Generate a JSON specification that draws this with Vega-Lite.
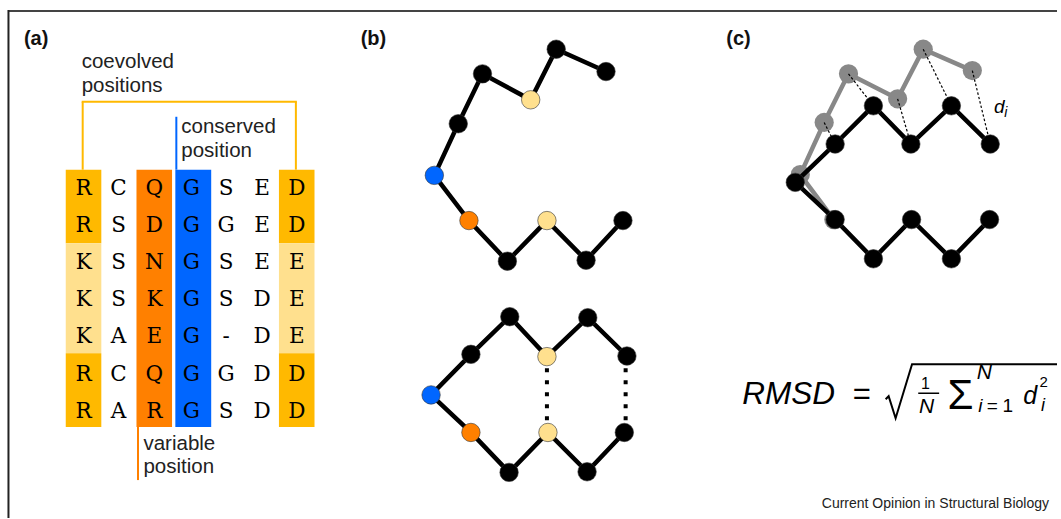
{
  "$schema": "https://vega.github.io/schema/vega-lite/v6.json",
  "width": 1061,
  "height": 519,
  "autosize": {"type": "fit", "contains": "padding"},
  "padding": 0,
  "background": "white",
  "config": {"view": {"stroke": null}},
  "datasets": {
    "cells": [
      {"kind": "coev", "x": 66, "x2": 101.7, "y": 170, "y2": 243.6},
      {"kind": "coevlight", "x": 66, "x2": 101.7, "y": 243.6, "y2": 354},
      {"kind": "coev", "x": 66, "x2": 101.7, "y": 354, "y2": 427.7},
      {"kind": "coev", "x": 280, "x2": 315.7, "y": 170, "y2": 243.6},
      {"kind": "coevlight", "x": 280, "x2": 315.7, "y": 243.6, "y2": 354},
      {"kind": "coev", "x": 280, "x2": 315.7, "y": 354, "y2": 427.7},
      {"kind": "variable", "x": 137, "x2": 172.7, "y": 170, "y2": 427.7},
      {"kind": "conserved", "x": 176, "x2": 212, "y": 170, "y2": 427.7}
    ],
    "letters": [
      {"r": "R", "x": 84, "y": 195}, {"r": "C", "x": 119, "y": 195}, {"r": "Q", "x": 155, "y": 195}, {"r": "G", "x": 192, "y": 195}, {"r": "S", "x": 227, "y": 195}, {"r": "E", "x": 263, "y": 195}, {"r": "D", "x": 298, "y": 195},
      {"r": "R", "x": 84, "y": 232}, {"r": "S", "x": 119, "y": 232}, {"r": "D", "x": 155, "y": 232}, {"r": "G", "x": 192, "y": 232}, {"r": "G", "x": 227, "y": 232}, {"r": "E", "x": 263, "y": 232}, {"r": "D", "x": 298, "y": 232},
      {"r": "K", "x": 84, "y": 269.5}, {"r": "S", "x": 119, "y": 269.5}, {"r": "N", "x": 155, "y": 269.5}, {"r": "G", "x": 192, "y": 269.5}, {"r": "S", "x": 227, "y": 269.5}, {"r": "E", "x": 263, "y": 269.5}, {"r": "E", "x": 298, "y": 269.5},
      {"r": "K", "x": 84, "y": 307}, {"r": "S", "x": 119, "y": 307}, {"r": "K", "x": 155, "y": 307}, {"r": "G", "x": 192, "y": 307}, {"r": "S", "x": 227, "y": 307}, {"r": "D", "x": 263, "y": 307}, {"r": "E", "x": 298, "y": 307},
      {"r": "K", "x": 84, "y": 344}, {"r": "A", "x": 119, "y": 344}, {"r": "E", "x": 155, "y": 344}, {"r": "G", "x": 192, "y": 344}, {"r": "-", "x": 227, "y": 344}, {"r": "D", "x": 263, "y": 344}, {"r": "E", "x": 298, "y": 344},
      {"r": "R", "x": 84, "y": 381.5}, {"r": "C", "x": 119, "y": 381.5}, {"r": "Q", "x": 155, "y": 381.5}, {"r": "G", "x": 192, "y": 381.5}, {"r": "G", "x": 227, "y": 381.5}, {"r": "D", "x": 263, "y": 381.5}, {"r": "D", "x": 298, "y": 381.5},
      {"r": "R", "x": 84, "y": 419}, {"r": "A", "x": 119, "y": 419}, {"r": "R", "x": 155, "y": 419}, {"r": "G", "x": 192, "y": 419}, {"r": "S", "x": 227, "y": 419}, {"r": "D", "x": 263, "y": 419}, {"r": "D", "x": 298, "y": 419}
    ],
    "segments": [
      {"kind": "coev", "x": 83, "y": 170, "x2": 83, "y2": 102},
      {"kind": "coev", "x": 82, "y": 102, "x2": 298, "y2": 102},
      {"kind": "coev", "x": 297, "y": 102, "x2": 297, "y2": 170},
      {"kind": "conserved", "x": 177, "y": 117, "x2": 177, "y2": 170},
      {"kind": "variable", "x": 138.5, "y": 427.7, "x2": 138.5, "y2": 481}
    ],
    "nodes": [
      {"chain": "btop", "ord": 1, "x": 608.3, "y": 71.7, "kind": "black"},
      {"chain": "btop", "ord": 2, "x": 558.3, "y": 49.3, "kind": "black"},
      {"chain": "btop", "ord": 3, "x": 532.7, "y": 100, "kind": "coevlight"},
      {"chain": "btop", "ord": 4, "x": 484.3, "y": 74, "kind": "black"},
      {"chain": "btop", "ord": 5, "x": 460, "y": 124, "kind": "black"},
      {"chain": "btop", "ord": 6, "x": 436, "y": 175.7, "kind": "conserved"},
      {"chain": "btop", "ord": 7, "x": 470.7, "y": 221, "kind": "variable"},
      {"chain": "btop", "ord": 8, "x": 509.3, "y": 261.7, "kind": "black"},
      {"chain": "btop", "ord": 9, "x": 549, "y": 221, "kind": "coevlight"},
      {"chain": "btop", "ord": 10, "x": 588.3, "y": 260.7, "kind": "black"},
      {"chain": "btop", "ord": 11, "x": 625.3, "y": 221, "kind": "black"},
      {"chain": "bbot", "ord": 1, "x": 629.3, "y": 356.7, "kind": "black"},
      {"chain": "bbot", "ord": 2, "x": 590, "y": 318.3, "kind": "black"},
      {"chain": "bbot", "ord": 3, "x": 549, "y": 357.3, "kind": "coevlight"},
      {"chain": "bbot", "ord": 4, "x": 511.7, "y": 317.3, "kind": "black"},
      {"chain": "bbot", "ord": 5, "x": 472.7, "y": 355, "kind": "black"},
      {"chain": "bbot", "ord": 6, "x": 432.7, "y": 395.7, "kind": "conserved"},
      {"chain": "bbot", "ord": 7, "x": 472.7, "y": 433.3, "kind": "variable"},
      {"chain": "bbot", "ord": 8, "x": 511, "y": 473.3, "kind": "black"},
      {"chain": "bbot", "ord": 9, "x": 550, "y": 433.3, "kind": "coevlight"},
      {"chain": "bbot", "ord": 10, "x": 589.3, "y": 472.7, "kind": "black"},
      {"chain": "bbot", "ord": 11, "x": 626.7, "y": 433.3, "kind": "black"},
      {"chain": "cref", "ord": 1, "x": 994, "y": 144.3, "kind": "black"},
      {"chain": "cref", "ord": 2, "x": 955, "y": 106, "kind": "black"},
      {"chain": "cref", "ord": 3, "x": 914.3, "y": 144.3, "kind": "black"},
      {"chain": "cref", "ord": 4, "x": 876.7, "y": 106, "kind": "black"},
      {"chain": "cref", "ord": 5, "x": 838.3, "y": 144.3, "kind": "black"},
      {"chain": "cref", "ord": 6, "x": 798.3, "y": 182.7, "kind": "black"},
      {"chain": "cref", "ord": 7, "x": 838.3, "y": 220, "kind": "black"},
      {"chain": "cref", "ord": 8, "x": 876.7, "y": 259.3, "kind": "black"},
      {"chain": "cref", "ord": 9, "x": 915, "y": 220, "kind": "black"},
      {"chain": "cref", "ord": 10, "x": 955, "y": 259.3, "kind": "black"},
      {"chain": "cref", "ord": 11, "x": 993.3, "y": 220, "kind": "black"}
    ],
    "model": [
      {"chain": "cmodel", "ord": 1, "x": 976, "y": 70.7},
      {"chain": "cmodel", "ord": 2, "x": 926.7, "y": 49.3},
      {"chain": "cmodel", "ord": 3, "x": 901, "y": 99},
      {"chain": "cmodel", "ord": 4, "x": 851.7, "y": 74},
      {"chain": "cmodel", "ord": 5, "x": 827.3, "y": 122.7},
      {"chain": "cmodel", "ord": 6, "x": 803.3, "y": 175},
      {"chain": "cmodel", "ord": 7, "x": 837, "y": 220}
    ],
    "bdots": [
      {"x": 549, "y": 369, "x2": 549, "y2": 424},
      {"x": 628, "y": 369, "x2": 628, "y2": 424}
    ],
    "cdash": [
      {"x": 851.7, "y": 74, "x2": 876.7, "y2": 106},
      {"x": 901, "y": 99, "x2": 914.3, "y2": 144.3},
      {"x": 926.7, "y": 49.3, "x2": 955, "y2": 106},
      {"x": 976, "y": 70.7, "x2": 994, "y2": 144.3},
      {"x": 827.3, "y": 122.7, "x2": 838.3, "y2": 144.3}
    ],
    "radical": [
      {"ord": 1, "x": 889, "y": 400},
      {"ord": 2, "x": 892, "y": 397},
      {"ord": 3, "x": 899, "y": 419},
      {"ord": 4, "x": 915.5, "y": 365},
      {"ord": 5, "x": 1061, "y": 365}
    ]
  },
  "layer": [
    {
      "data": {"values": [
        {"x": 8, "y": 11, "x2": 1061, "y2": 11}
      ]},
      "mark": {"type": "rule", "stroke": "#444", "strokeWidth": 2},
      "encoding": {
        "x": {"field": "x", "type": "quantitative", "scale": {"domain": [0, 1061], "nice": false, "zero": false}, "axis": null},
        "y": {"field": "y", "type": "quantitative", "scale": {"domain": [0, 519], "nice": false, "zero": false, "reverse": true}, "axis": null},
        "x2": {"field": "x2"},
        "y2": {"field": "y2"}
      }
    },
    {
      "data": {"values": [
        {"x": 8.5, "y": 10, "x2": 8.5, "y2": 519}
      ]},
      "mark": {"type": "rule", "stroke": "#222", "strokeWidth": 2},
      "encoding": {
        "x": {"field": "x", "type": "quantitative", "scale": {"domain": [0, 1061], "nice": false, "zero": false}, "axis": null},
        "y": {"field": "y", "type": "quantitative", "scale": {"domain": [0, 519], "nice": false, "zero": false, "reverse": true}, "axis": null},
        "x2": {"field": "x2"},
        "y2": {"field": "y2"}
      }
    },
    {
      "data": {"name": "cells"},
      "mark": {"type": "rect"},
      "encoding": {
        "x": {"field": "x", "type": "quantitative", "scale": {"domain": [0, 1061], "nice": false, "zero": false}, "axis": null},
        "y": {"field": "y", "type": "quantitative", "scale": {"domain": [0, 519], "nice": false, "zero": false, "reverse": true}, "axis": null},
        "x2": {"field": "x2"},
        "y2": {"field": "y2"},
        "color": {"field": "kind", "type": "nominal", "legend": null,
          "scale": {"domain": ["coev", "coevlight", "variable", "conserved", "black", "grey"], "range": ["#FFB900", "#FFE08E", "#FF8000", "#0066FF", "#000000", "#888888"]}}
      }
    },
    {
      "data": {"name": "segments"},
      "mark": {"type": "rule", "strokeWidth": 2},
      "encoding": {
        "x": {"field": "x", "type": "quantitative", "scale": {"domain": [0, 1061], "nice": false, "zero": false}, "axis": null},
        "y": {"field": "y", "type": "quantitative", "scale": {"domain": [0, 519], "nice": false, "zero": false, "reverse": true}, "axis": null},
        "x2": {"field": "x2"},
        "y2": {"field": "y2"},
        "color": {"field": "kind", "type": "nominal", "legend": null,
          "scale": {"domain": ["coev", "coevlight", "variable", "conserved", "black", "grey"], "range": ["#FFB900", "#FFE08E", "#FF8000", "#0066FF", "#000000", "#888888"]}}
      }
    },
    {
      "data": {"name": "letters"},
      "mark": {"type": "text", "font": "DejaVu Serif", "fontSize": 21.5, "align": "center", "baseline": "alphabetic", "color": "#000"},
      "encoding": {
        "x": {"field": "x", "type": "quantitative", "scale": {"domain": [0, 1061], "nice": false, "zero": false}, "axis": null},
        "y": {"field": "y", "type": "quantitative", "scale": {"domain": [0, 519], "nice": false, "zero": false, "reverse": true}, "axis": null},
        "text": {"field": "r"}
      }
    },
    {
      "data": {"values": [
        {"t": "coevolved", "x": 82, "y": 68},
        {"t": "positions", "x": 82, "y": 91.7},
        {"t": "conserved", "x": 182, "y": 133.3},
        {"t": "position", "x": 182, "y": 157},
        {"t": "variable", "x": 144, "y": 450.7},
        {"t": "position", "x": 144, "y": 474.4}
      ]},
      "mark": {"type": "text", "font": "Liberation Sans", "fontSize": 20.5, "align": "left", "baseline": "alphabetic", "color": "#222"},
      "encoding": {
        "x": {"field": "x", "type": "quantitative", "scale": {"domain": [0, 1061], "nice": false, "zero": false}, "axis": null},
        "y": {"field": "y", "type": "quantitative", "scale": {"domain": [0, 519], "nice": false, "zero": false, "reverse": true}, "axis": null},
        "text": {"field": "t"}
      }
    },
    {
      "data": {"values": [
        {"t": "(a)", "x": 24, "y": 45},
        {"t": "(b)", "x": 362, "y": 45},
        {"t": "(c)", "x": 729, "y": 45}
      ]},
      "mark": {"type": "text", "font": "Liberation Sans", "fontSize": 20, "fontWeight": "bold", "align": "left", "baseline": "alphabetic", "color": "#111"},
      "encoding": {
        "x": {"field": "x", "type": "quantitative", "scale": {"domain": [0, 1061], "nice": false, "zero": false}, "axis": null},
        "y": {"field": "y", "type": "quantitative", "scale": {"domain": [0, 519], "nice": false, "zero": false, "reverse": true}, "axis": null},
        "text": {"field": "t"}
      }
    },
    {
      "data": {"values": [
        {"t": "Current Opinion in Structural Biology", "x": 1053, "y": 508.5}
      ]},
      "mark": {"type": "text", "font": "Liberation Sans", "fontSize": 14, "align": "right", "baseline": "alphabetic", "color": "#222"},
      "encoding": {
        "x": {"field": "x", "type": "quantitative", "scale": {"domain": [0, 1061], "nice": false, "zero": false}, "axis": null},
        "y": {"field": "y", "type": "quantitative", "scale": {"domain": [0, 519], "nice": false, "zero": false, "reverse": true}, "axis": null},
        "text": {"field": "t"}
      }
    },
    {
      "data": {"name": "model"},
      "mark": {"type": "line", "stroke": "#888888", "strokeWidth": 4.5},
      "encoding": {
        "x": {"field": "x", "type": "quantitative", "scale": {"domain": [0, 1061], "nice": false, "zero": false}, "axis": null},
        "y": {"field": "y", "type": "quantitative", "scale": {"domain": [0, 519], "nice": false, "zero": false, "reverse": true}, "axis": null},
        "order": {"field": "ord", "type": "quantitative"}
      }
    },
    {
      "data": {"name": "model"},
      "mark": {"type": "point", "filled": true, "shape": "circle", "size": 370, "color": "#888888", "opacity": 1},
      "encoding": {
        "x": {"field": "x", "type": "quantitative", "scale": {"domain": [0, 1061], "nice": false, "zero": false}, "axis": null},
        "y": {"field": "y", "type": "quantitative", "scale": {"domain": [0, 519], "nice": false, "zero": false, "reverse": true}, "axis": null}
      }
    },
    {
      "data": {"name": "cdash"},
      "mark": {"type": "rule", "stroke": "#000", "strokeWidth": 1.2, "strokeDash": [2.5, 2]},
      "encoding": {
        "x": {"field": "x", "type": "quantitative", "scale": {"domain": [0, 1061], "nice": false, "zero": false}, "axis": null},
        "y": {"field": "y", "type": "quantitative", "scale": {"domain": [0, 519], "nice": false, "zero": false, "reverse": true}, "axis": null},
        "x2": {"field": "x2"},
        "y2": {"field": "y2"}
      }
    },
    {
      "data": {"name": "bdots"},
      "mark": {"type": "rule", "stroke": "#000", "strokeWidth": 4, "strokeDash": [4, 8]},
      "encoding": {
        "x": {"field": "x", "type": "quantitative", "scale": {"domain": [0, 1061], "nice": false, "zero": false}, "axis": null},
        "y": {"field": "y", "type": "quantitative", "scale": {"domain": [0, 519], "nice": false, "zero": false, "reverse": true}, "axis": null},
        "x2": {"field": "x2"},
        "y2": {"field": "y2"}
      }
    },
    {
      "data": {"name": "nodes"},
      "mark": {"type": "line", "stroke": "#000", "strokeWidth": 4.5},
      "encoding": {
        "x": {"field": "x", "type": "quantitative", "scale": {"domain": [0, 1061], "nice": false, "zero": false}, "axis": null},
        "y": {"field": "y", "type": "quantitative", "scale": {"domain": [0, 519], "nice": false, "zero": false, "reverse": true}, "axis": null},
        "detail": {"field": "chain", "type": "nominal"},
        "order": {"field": "ord", "type": "quantitative"}
      }
    },
    {
      "data": {"name": "nodes"},
      "mark": {"type": "point", "filled": true, "shape": "circle", "size": 340, "opacity": 1, "stroke": "#333", "strokeWidth": 0.6},
      "encoding": {
        "x": {"field": "x", "type": "quantitative", "scale": {"domain": [0, 1061], "nice": false, "zero": false}, "axis": null},
        "y": {"field": "y", "type": "quantitative", "scale": {"domain": [0, 519], "nice": false, "zero": false, "reverse": true}, "axis": null},
        "fill": {"field": "kind", "type": "nominal", "legend": null,
          "scale": {"domain": ["coev", "coevlight", "variable", "conserved", "black", "grey"], "range": ["#FFB900", "#FFE08E", "#FF8000", "#0066FF", "#000000", "#888888"]}}
      }
    },
    {
      "data": {"name": "radical"},
      "mark": {"type": "line", "stroke": "#000", "strokeWidth": 2, "strokeJoin": "miter"},
      "encoding": {
        "x": {"field": "x", "type": "quantitative", "scale": {"domain": [0, 1061], "nice": false, "zero": false}, "axis": null},
        "y": {"field": "y", "type": "quantitative", "scale": {"domain": [0, 519], "nice": false, "zero": false, "reverse": true}, "axis": null},
        "order": {"field": "ord", "type": "quantitative"}
      }
    },
    {
      "data": {"values": [
        {"x": 921.7, "y": 394, "x2": 942.7, "y2": 394}
      ]},
      "mark": {"type": "rule", "stroke": "#000", "strokeWidth": 1.5},
      "encoding": {
        "x": {"field": "x", "type": "quantitative", "scale": {"domain": [0, 1061], "nice": false, "zero": false}, "axis": null},
        "y": {"field": "y", "type": "quantitative", "scale": {"domain": [0, 519], "nice": false, "zero": false, "reverse": true}, "axis": null},
        "x2": {"field": "x2"},
        "y2": {"field": "y2"}
      }
    },
    {
      "data": {"values": [
        {"t": "RMSD", "x": 745, "y": 405}
      ]},
      "mark": {"type": "text", "font": "Liberation Sans", "fontSize": 31.5, "fontStyle": "italic", "align": "left", "baseline": "alphabetic", "color": "#000"},
      "encoding": {
        "x": {"field": "x", "type": "quantitative", "scale": {"domain": [0, 1061], "nice": false, "zero": false}, "axis": null},
        "y": {"field": "y", "type": "quantitative", "scale": {"domain": [0, 519], "nice": false, "zero": false, "reverse": true}, "axis": null},
        "text": {"field": "t"}
      }
    },
    {
      "data": {"values": [
        {"t": "=", "x": 865, "y": 405}
      ]},
      "mark": {"type": "text", "font": "Liberation Sans", "fontSize": 31, "align": "center", "baseline": "alphabetic", "color": "#000"},
      "encoding": {
        "x": {"field": "x", "type": "quantitative", "scale": {"domain": [0, 1061], "nice": false, "zero": false}, "axis": null},
        "y": {"field": "y", "type": "quantitative", "scale": {"domain": [0, 519], "nice": false, "zero": false, "reverse": true}, "axis": null},
        "text": {"field": "t"}
      }
    },
    {
      "data": {"values": [
        {"t": "Σ", "x": 964, "y": 410}
      ]},
      "mark": {"type": "text", "font": "Liberation Sans", "fontSize": 42, "align": "center", "baseline": "alphabetic", "color": "#000"},
      "encoding": {
        "x": {"field": "x", "type": "quantitative", "scale": {"domain": [0, 1061], "nice": false, "zero": false}, "axis": null},
        "y": {"field": "y", "type": "quantitative", "scale": {"domain": [0, 519], "nice": false, "zero": false, "reverse": true}, "axis": null},
        "text": {"field": "t"}
      }
    },
    {
      "data": {"values": [
        {"t": "1", "x": 929, "y": 390}
      ]},
      "mark": {"type": "text", "font": "Liberation Sans", "fontSize": 16, "align": "center", "baseline": "alphabetic", "color": "#000"},
      "encoding": {
        "x": {"field": "x", "type": "quantitative", "scale": {"domain": [0, 1061], "nice": false, "zero": false}, "axis": null},
        "y": {"field": "y", "type": "quantitative", "scale": {"domain": [0, 519], "nice": false, "zero": false, "reverse": true}, "axis": null},
        "text": {"field": "t"}
      }
    },
    {
      "data": {"values": [
        {"t": "=", "x": 996, "y": 413},
        {"t": "1", "x": 1011.5, "y": 413}
      ]},
      "mark": {"type": "text", "font": "Liberation Sans", "fontSize": 19, "align": "center", "baseline": "alphabetic", "color": "#000"},
      "encoding": {
        "x": {"field": "x", "type": "quantitative", "scale": {"domain": [0, 1061], "nice": false, "zero": false}, "axis": null},
        "y": {"field": "y", "type": "quantitative", "scale": {"domain": [0, 519], "nice": false, "zero": false, "reverse": true}, "axis": null},
        "text": {"field": "t"}
      }
    },
    {
      "data": {"values": [
        {"t": "2", "x": 1047.5, "y": 388}
      ]},
      "mark": {"type": "text", "font": "Liberation Sans", "fontSize": 15, "align": "center", "baseline": "alphabetic", "color": "#000"},
      "encoding": {
        "x": {"field": "x", "type": "quantitative", "scale": {"domain": [0, 1061], "nice": false, "zero": false}, "axis": null},
        "y": {"field": "y", "type": "quantitative", "scale": {"domain": [0, 519], "nice": false, "zero": false, "reverse": true}, "axis": null},
        "text": {"field": "t"}
      }
    },
    {
      "data": {"values": [
        {"t": "N", "x": 930, "y": 414},
        {"t": "N", "x": 988, "y": 380}
      ]},
      "mark": {"type": "text", "font": "Liberation Sans", "fontSize": 21, "fontStyle": "italic", "align": "center", "baseline": "alphabetic", "color": "#000"},
      "encoding": {
        "x": {"field": "x", "type": "quantitative", "scale": {"domain": [0, 1061], "nice": false, "zero": false}, "axis": null},
        "y": {"field": "y", "type": "quantitative", "scale": {"domain": [0, 519], "nice": false, "zero": false, "reverse": true}, "axis": null},
        "text": {"field": "t"}
      }
    },
    {
      "data": {"values": [
        {"t": "i", "x": 984, "y": 413},
        {"t": "d", "x": 1003, "y": 113.3}
      ]},
      "mark": {"type": "text", "font": "Liberation Sans", "fontSize": 19, "fontStyle": "italic", "align": "center", "baseline": "alphabetic", "color": "#000"},
      "encoding": {
        "x": {"field": "x", "type": "quantitative", "scale": {"domain": [0, 1061], "nice": false, "zero": false}, "axis": null},
        "y": {"field": "y", "type": "quantitative", "scale": {"domain": [0, 519], "nice": false, "zero": false, "reverse": true}, "axis": null},
        "text": {"field": "t"}
      }
    },
    {
      "data": {"values": [
        {"t": "d", "x": 1034, "y": 405}
      ]},
      "mark": {"type": "text", "font": "Liberation Sans", "fontSize": 25, "fontStyle": "italic", "align": "center", "baseline": "alphabetic", "color": "#000"},
      "encoding": {
        "x": {"field": "x", "type": "quantitative", "scale": {"domain": [0, 1061], "nice": false, "zero": false}, "axis": null},
        "y": {"field": "y", "type": "quantitative", "scale": {"domain": [0, 519], "nice": false, "zero": false, "reverse": true}, "axis": null},
        "text": {"field": "t"}
      }
    },
    {
      "data": {"values": [
        {"t": "i", "x": 1047, "y": 411.7}
      ]},
      "mark": {"type": "text", "font": "Liberation Sans", "fontSize": 18, "fontStyle": "italic", "align": "center", "baseline": "alphabetic", "color": "#000"},
      "encoding": {
        "x": {"field": "x", "type": "quantitative", "scale": {"domain": [0, 1061], "nice": false, "zero": false}, "axis": null},
        "y": {"field": "y", "type": "quantitative", "scale": {"domain": [0, 519], "nice": false, "zero": false, "reverse": true}, "axis": null},
        "text": {"field": "t"}
      }
    },
    {
      "data": {"values": [
        {"t": "i", "x": 1009.5, "y": 117.5}
      ]},
      "mark": {"type": "text", "font": "Liberation Sans", "fontSize": 14, "fontStyle": "italic", "align": "center", "baseline": "alphabetic", "color": "#000"},
      "encoding": {
        "x": {"field": "x", "type": "quantitative", "scale": {"domain": [0, 1061], "nice": false, "zero": false}, "axis": null},
        "y": {"field": "y", "type": "quantitative", "scale": {"domain": [0, 519], "nice": false, "zero": false, "reverse": true}, "axis": null},
        "text": {"field": "t"}
      }
    }
  ]
}
